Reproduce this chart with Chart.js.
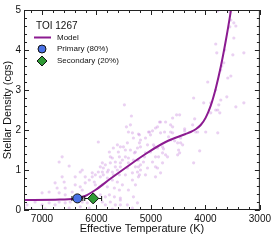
<!DOCTYPE html>
<html>
<head>
<meta charset="utf-8">
<script src="https://cdn.jsdelivr.net/npm/chart.js@4.4.1/dist/chart.umd.min.js"></script>
<style>
  html, body { margin: 0; padding: 0; background: #fff; }
  #wrap { width: 274px; height: 240px; }
</style>
</head>
<body>
<div id="wrap"><canvas id="c" width="274" height="240"></canvas></div>
<script>
// background stars (Teff, density)
const bgT = [3773,3552,3533,3478,3441,3552,3478,3810,3644,3791,3496,3294,3662,3699,3718,3589,3533,3957,3810,4216,
  3607,4031,3902,3754,3718,3441,3294,3810,3773,3736,3902,4529,4473,4602,4197,4731,4823,4602,4234,4381,
  4381,4750,4602,4179,4142,3994,3773,4676,4455,4565,4418,4768,4492,4473,4510,4105,4731,4216,5211,5026,
  4971,5008,4879,4823,4639,4455,4934,5063,5192,4787,4916,5118,5247,4916,5192,5211,5487,5358,5450,5413,
  5966,5321,5229,5192,5211,5100,5045,4842,4639,4916,4953,4879,4787,4639,4510,5100,5008,4860,4971,4787,
  4695,5303,5247,5376,5469,5505,5616,5690,5598,5469,5413,5413,5321,5229,5192,5137,5229,5247,5340,5432,
  5524,5561,5653,5708,5745,5837,5874,5929,5782,5708,5616,5690,5874,5966,6021,6077,6261,6206,4879,4916,
  4823,5063,5100,5229,5469,5763,5745,5579,5892,5653,5561,5800,5892,5579,6077,6298,6390,5929,5800,5708,
  5616,5524,6132,6040,6206,6021,5892,5800,5671,5579,6630,6593,6390,6298,6261,6574,6445,6759,6722,6869,
  6998,6685,6574,5929,5837,5763,5671,5561,5745,5653,5561,5837,5892,6169,6261,6482,6574,6685,6759,6869,
  6998,7127,7275,7312,7183,6943,6501,6298,6132,5708,6685,6630,6501,5376,5340,5432,5561,5284,5284,5340,
  5284,5413,5321,5432,5247,5340,5561];
const bgRho = [4.98,4.95,4.75,4.68,4.6,4.58,4.3,4.15,4.0,3.93,3.88,3.93,3.68,3.6,3.5,3.3,3.35,3.2,3.0,2.8,
  2.83,2.68,2.68,2.63,2.75,2.58,2.68,2.5,2.5,2.43,2.43,2.38,2.38,2.3,2.28,2.2,2.2,2.08,2.13,2.03,
  1.98,1.95,1.93,1.95,1.95,1.95,1.93,1.83,1.8,1.73,1.63,1.53,1.5,1.43,1.38,1.48,1.38,1.18,1.88,1.95,
  1.98,1.88,2.08,1.93,2.13,1.68,1.58,1.63,1.58,1.43,1.33,1.33,1.25,1.08,1.0,0.88,2.63,2.35,2.08,1.95,
  1.7,1.8,1.9,1.75,1.68,1.8,1.95,2.2,1.95,2.05,1.63,1.55,1.58,1.75,1.68,1.43,1.45,1.33,1.2,1.18,
  1.33,1.43,1.55,1.5,1.5,1.58,1.63,1.55,1.45,1.33,1.3,1.18,1.25,1.25,1.13,1.2,1.08,0.95,0.93,1.05,
  1.25,1.18,1.2,1.3,1.18,1.13,1.05,1.08,1.0,0.95,1.0,0.88,0.88,0.95,0.88,0.83,1.0,0.83,1.05,0.83,
  0.93,1.05,0.88,0.83,0.88,1.45,1.33,1.33,1.18,1.08,1.08,0.95,0.95,0.88,0.93,0.95,0.83,0.83,0.8,0.75,
  0.7,0.63,0.75,0.7,0.68,0.63,0.63,0.58,0.55,0.5,0.83,0.7,0.63,0.58,0.5,0.55,0.45,0.68,0.55,0.45,
  0.43,0.43,0.38,0.38,0.33,0.38,0.33,0.3,0.2,0.13,0.13,0.13,0.2,0.18,0.2,0.2,0.18,0.2,0.13,0.18,
  0.13,0.2,0.13,0.05,0.02,0.03,0.05,0.08,0.05,0.02,1.2,1.33,1.1,2.13,1.93,1.68,1.58,1.45,1.08,0.75,
  0.63,0.5,0.33,0.13,0.18,0.05,0.25];

// model track
const modelT = [7330,6670,6390,6210,6020,5745,5470,5100,4730,4363,4271,4178,4086,3994,3902,3810,3718,3626,3533,3497];
const modelRho = [0.25,0.26,0.29,0.35,0.5,0.78,1.05,1.4,1.7,1.9,1.95,2.02,2.125,2.31,2.61,3.04,3.58,4.23,4.98,5.3];

// TOI 1267 components
const legendTitle = 'TOI 1267';
const starNames = ['Primary (80%)', 'Secondary (20%)'];
const starT = [6350, 6060];
const starTErr = [100, 155];
const starRho = [0.29, 0.29];

const xTicks = [7000, 6000, 5000, 4000, 3000];
const yTicks = [0, 1, 2, 3, 4, 5];

const FONT = '"Liberation Sans", Arial, Helvetica, sans-serif';

const errorBars = {
  id: 'errorBars',
  beforeDatasetDraw(chart, args) {
    const ds = chart.data.datasets[args.index];
    if (ds.starIdx === undefined) return;
    const i = ds.starIdx;
    const {ctx, scales: {x, y}} = chart;
    const x1 = x.getPixelForValue(starT[i] - starTErr[i]);
    const x2 = x.getPixelForValue(starT[i] + starTErr[i]);
    const py = Math.round(y.getPixelForValue(starRho[i])) + 0.5;
    ctx.save();
    ctx.strokeStyle = '#111';
    ctx.lineWidth = 1;
    ctx.beginPath();
    ctx.moveTo(x1, py); ctx.lineTo(x2, py);
    ctx.moveTo(x1, py - 2.5); ctx.lineTo(x1, py + 2.5);
    ctx.moveTo(x2, py - 2.5); ctx.lineTo(x2, py + 2.5);
    ctx.stroke();
    ctx.restore();
  }
};

const frame = {
  id: 'frame',
  afterDraw(chart) {
    const {ctx, chartArea: a, scales: {x, y}} = chart;
    ctx.save();
    ctx.strokeStyle = '#222';
    ctx.lineWidth = 1;
    ctx.strokeRect(a.left + 0.5, a.top + 0.5, a.right - a.left - 1, a.bottom - a.top - 1);
    ctx.beginPath();
    // x ticks, minor every 200 K
    for (let v = 3000; v <= x.max; v += 200) {
      const px = Math.round(x.getPixelForValue(v)) + 0.5;
      const len = xTicks.includes(v) ? 5 : 3;
      ctx.moveTo(px, a.bottom); ctx.lineTo(px, a.bottom - len);
      ctx.moveTo(px, a.top); ctx.lineTo(px, a.top + len);
    }
    // y ticks, minor every 0.2
    for (let k = 0; k <= 25; k++) {
      const v = k / 5;
      const py = Math.round(y.getPixelForValue(v)) + 0.5;
      const len = k % 5 === 0 ? 5 : 3;
      ctx.moveTo(a.left, py); ctx.lineTo(a.left + len, py);
      ctx.moveTo(a.right, py); ctx.lineTo(a.right - len, py);
    }
    ctx.stroke();

    // legend
    const ds = chart.data.datasets;
    const lx = a.left + 10;
    ctx.fillStyle = '#111';
    ctx.textBaseline = 'middle';
    ctx.font = '10px ' + FONT;
    ctx.fillText(legendTitle, a.left + 12, a.top + 16.5);
    ctx.font = '8px ' + FONT;
    const model = ds.find(d => d.label === 'Model');
    ctx.strokeStyle = model.borderColor;
    ctx.lineWidth = 2;
    ctx.beginPath();
    ctx.moveTo(lx, a.top + 27.5); ctx.lineTo(lx + 17, a.top + 27.5);
    ctx.stroke();
    ctx.fillText(model.label, lx + 23, a.top + 27.5);
    ds.filter(d => d.starIdx !== undefined).forEach((d, j) => {
      const cy = a.top + 39 + j * 12;
      ctx.fillStyle = d.backgroundColor;
      ctx.strokeStyle = d.borderColor;
      ctx.lineWidth = 1;
      Chart.helpers.drawPoint(ctx, {pointStyle: d.pointStyle, radius: d.pointRadius - 0.5, rotation: 0, borderWidth: 1}, lx + 8, cy);
      ctx.fillStyle = '#111';
      ctx.fillText(d.label, lx + 23, cy);
    });
    ctx.restore();
  }
};

new Chart(document.getElementById('c'), {
  type: 'scatter',
  data: {
    datasets: [
      {
        label: starNames[0], starIdx: 0, order: 0,
        data: [{x: starT[0], y: starRho[0]}],
        pointStyle: 'circle', pointRadius: 4.5,
        backgroundColor: '#4a72e6', borderColor: '#111', borderWidth: 1
      },
      {
        label: starNames[1], starIdx: 1, order: 1,
        data: [{x: starT[1], y: starRho[1]}],
        pointStyle: 'rectRot', pointRadius: 5.5,
        backgroundColor: '#2f9a35', borderColor: '#111', borderWidth: 1
      },
      {
        label: 'Model', type: 'line', order: 2,
        data: modelT.map((t, i) => ({x: t, y: modelRho[i]})),
        borderColor: '#8c1b91', borderWidth: 2, pointRadius: 0,
        cubicInterpolationMode: 'monotone', fill: false
      },
      {
        label: 'Stars', order: 3,
        data: bgT.map((t, i) => ({x: t, y: bgRho[i]})),
        pointRadius: 1.6, borderWidth: 0,
        backgroundColor: 'rgba(200,135,220,0.38)'
      }
    ]
  },
  options: {
    responsive: false,
    animation: false,
    layout: {padding: {top: 10, right: 14, left: 0, bottom: 0}},
    plugins: {legend: {display: false}, tooltip: {enabled: false}},
    scales: {
      x: {
        type: 'linear', reverse: true, min: 3000, max: 7330,
        afterBuildTicks: s => { s.ticks = xTicks.map(v => ({value: v})); },
        afterFit: s => { s.height = 30; },
        grid: {display: false, drawTicks: false},
        border: {display: false},
        ticks: {color: '#111', padding: 3, font: {family: FONT, size: 10}, maxRotation: 0,
                callback: v => String(v)},
        title: {display: true, text: 'Effective Temperature (K)', color: '#111',
                font: {family: FONT, size: 11}, padding: {top: 0, bottom: 4}}
      },
      y: {
        type: 'linear', min: 0, max: 5,
        afterBuildTicks: s => { s.ticks = yTicks.map(v => ({value: v})); },
        afterFit: s => { s.width = 24; },
        grid: {display: false, drawTicks: false},
        border: {display: false},
        ticks: {color: '#111', padding: 3, font: {family: FONT, size: 10}, callback: v => String(v)},
        title: {display: true, text: 'Stellar Density (cgs)', color: '#111',
                font: {family: FONT, size: 11}, padding: {top: 1, bottom: 0}}
      }
    }
  },
  plugins: [errorBars, frame]
});
</script>
</body>
</html>
